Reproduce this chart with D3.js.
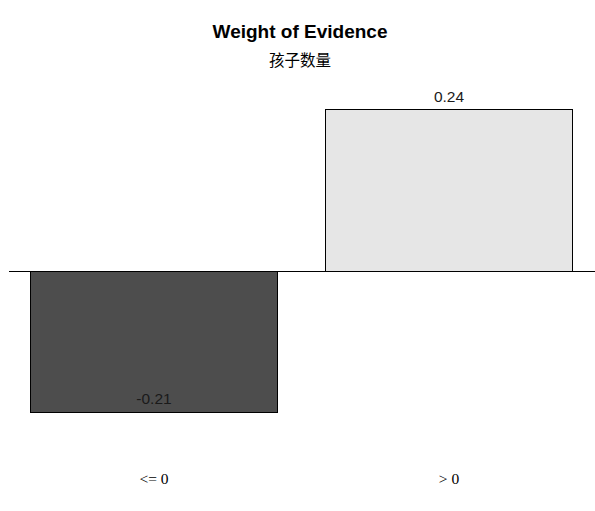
<!DOCTYPE html>
<html><head><meta charset="utf-8">
<script src="https://cdn.jsdelivr.net/npm/d3@7"></script>
<style>body{margin:0;background:#fff}svg{display:block}</style>
</head><body>
<script>
const categories = ["<= 0", "> 0"];
const woeValues = [-0.21, 0.24];
const valueLabels = ["-0.21", "0.24"];
const barColors = ["#4d4d4d", "#e6e6e6"];
const titleText = "Weight of Evidence";
const subtitleText = "孩子数量";

const W = 595, H = 511;
const svg = d3.select("body").append("svg").attr("width", W).attr("height", H);

const x = d3.scaleBand().domain(categories).range([6.5, 596.5]).paddingInner(0.166).paddingOuter(0.083);
const y = d3.scaleLinear().domain([-0.21, 0.24]).range([412.5, 109.5]);
const data = categories.map((c, i) => ({c, v: woeValues[i], label: valueLabels[i], color: barColors[i]}));

svg.append("text").attr("x", 300).attr("y", 38).attr("text-anchor", "middle")
  .attr("font-family", "Liberation Sans, Arial, sans-serif").attr("font-weight", "bold").attr("font-size", 19)
  .text(titleText);
svg.append("text").attr("x", 300).attr("y", 66).attr("text-anchor", "middle")
  .attr("font-family", "Noto Sans CJK SC, sans-serif").attr("font-size", 15.5)
  .text(subtitleText);

svg.selectAll("rect.bar").data(data).join("rect").attr("class", "bar")
  .attr("x", d => x(d.c)).attr("width", x.bandwidth())
  .attr("y", d => Math.min(y(d.v), y(0))).attr("height", d => Math.abs(y(d.v) - y(0)))
  .attr("fill", d => d.color).attr("stroke", "#000").attr("stroke-width", 1)
  .attr("shape-rendering", "crispEdges");

svg.append("line").attr("x1", 9).attr("x2", W).attr("y1", y(0)).attr("y2", y(0))
  .attr("stroke", "#000").attr("stroke-width", 1).attr("shape-rendering", "crispEdges");

svg.selectAll("text.val").data(data).join("text").attr("class", "val")
  .attr("x", d => x(d.c) + x.bandwidth() / 2)
  .attr("y", d => d.v >= 0 ? y(d.v) - 7.5 : y(d.v) - 8.5)
  .attr("text-anchor", "middle").attr("font-family", "Liberation Sans, Arial, sans-serif").attr("font-size", 15.5)
  .attr("fill", "#1a1a1a").text(d => d.label);

svg.selectAll("text.cat").data(categories).join("text").attr("class", "cat")
  .attr("x", d => x(d) + x.bandwidth() / 2).attr("y", 484)
  .attr("text-anchor", "middle").attr("font-family", "Liberation Serif, Times New Roman, serif").attr("font-size", 15.5)
  .text(d => d);
</script>
</body></html>
